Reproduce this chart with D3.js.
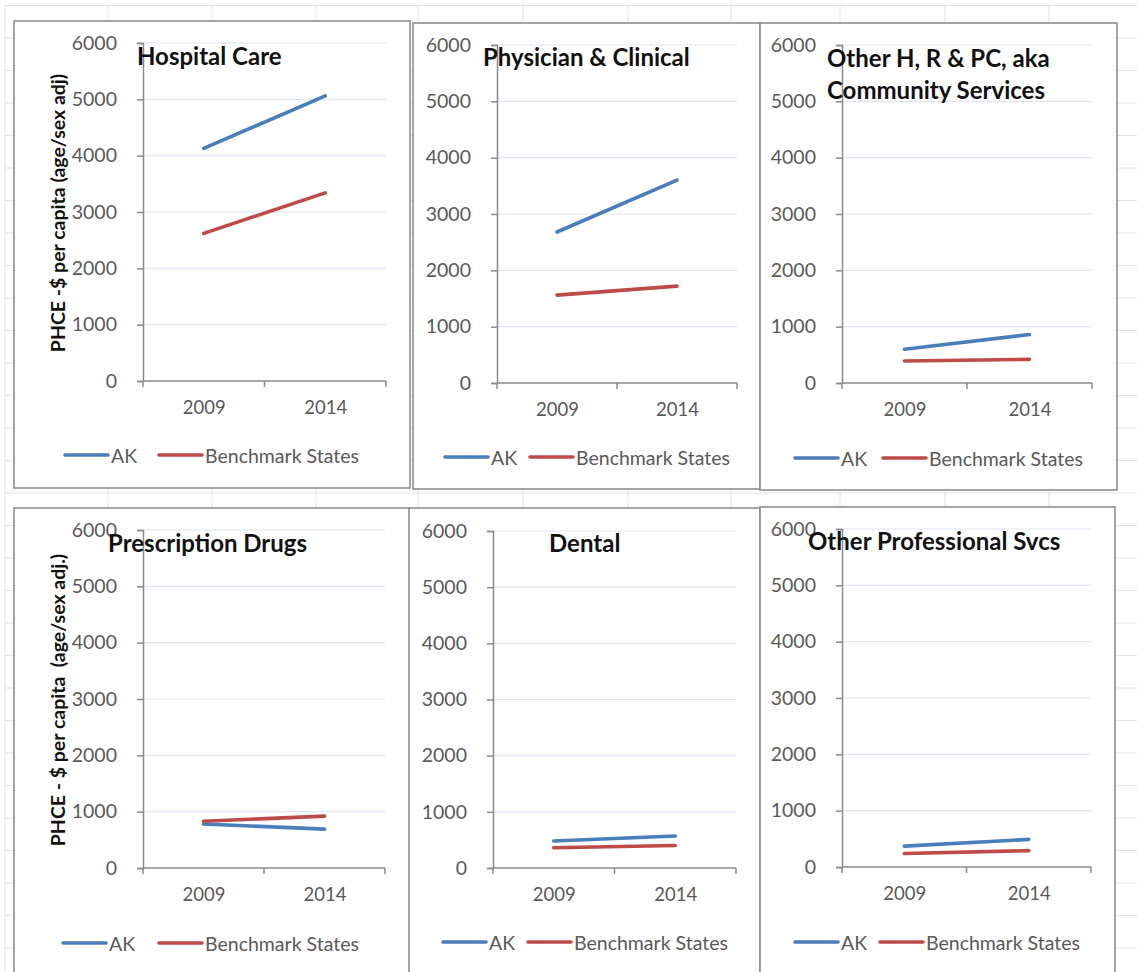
<!DOCTYPE html>
<html>
<head>
<meta charset="utf-8">
<script src="https://cdn.jsdelivr.net/npm/d3@7"></script>
<style>
  html, body { margin: 0; padding: 0; background: #ffffff; }
  svg { display: block; font-family: Lato, "Open Sans", sans-serif; }
  .pre { white-space: pre; }
</style>
</head>
<body>
<svg id="chart" width="1137" height="972"></svg>
<script>
// ---- Data ---------------------------------------------------------------
const years = ["2009", "2014"];
const seriesNames = ["AK", "Benchmark States"];
const panelTitles = [
  ["Hospital Care"],
  ["Physician & Clinical"],
  ["Other H, R & PC, aka", "Community Services"],
  ["Prescription Drugs"],
  ["Dental"],
  ["Other Professional Svcs"]
];
const yAxisTitles = [
  "PHCE -$ per capita (age/sex adj)", null, null,
  "PHCE - $ per capita  (age/sex adj.)", null, null
];
// Per-capita spending, [2009, 2014]
const akValues = [
  [4130, 5060],
  [2680, 3600],
  [600, 860],
  [780, 690],
  [480, 570],
  [370, 490]
];
const benchmarkValues = [
  [2620, 3340],
  [1560, 1720],
  [390, 420],
  [830, 920],
  [360, 400],
  [240, 290]
];
const yTicks = [0, 1000, 2000, 3000, 4000, 5000, 6000];

// ---- Layout -------------------------------------------------------------
const colors = { ak: "#4a7ebb", bench: "#be4b48" };
const panels = [
  { frame: [14, 21, 410, 488],  plot: [143, 386, 43, 381],  titleX: 137, titleY: [55],     yTitle: [57, 213], legend: [65, 159, 455] },
  { frame: [413, 23, 760, 489], plot: [497, 737, 45, 383],  titleX: 483, titleY: [56],     yTitle: null,      legend: [445, 530, 457] },
  { frame: [760, 23, 1117, 490],plot: [842, 1092, 45, 383], titleX: 827, titleY: [57, 89], yTitle: null,      legend: [795, 883, 458] },
  { frame: [14, 508, 410, 990], plot: [143, 385, 530, 868], titleX: 108, titleY: [542],    yTitle: [57, 700], legend: [63, 159, 943] },
  { frame: [409, 508, 760, 990],plot: [493, 736, 531, 868], titleX: 549, titleY: [542],    yTitle: null,      legend: [443, 528, 942] },
  { frame: [760, 507, 1115, 990],plot: [842, 1091, 529, 867],titleX: 808, titleY: [540],   yTitle: null,      legend: [795, 880, 942] }
];

const svg = d3.select("#chart");

// Worksheet cell grid behind the charts
const colLines = [5, 108, 212, 316, 418, 523, 628, 731, 840, 945, 1049];
const rowLines = d3.range(0, 31).map(k => 5.5 + 32.5 * k);
const sheet = svg.append("g").attr("stroke", "#e2e2e2").attr("stroke-width", 1);
sheet.selectAll("line.col").data(colLines).join("line")
  .attr("x1", d => d).attr("x2", d => d).attr("y1", 6).attr("y2", 972);
sheet.selectAll("line.row").data(rowLines).join("line")
  .attr("x1", 5).attr("x2", 1137).attr("y1", d => d).attr("y2", d => d);

panels.forEach((p, i) => {
  const [fx0, fy0, fx1, fy1] = p.frame;
  const [px0, px1, pyTop, pyBottom] = p.plot;
  const g = svg.append("g");

  // chart frame
  g.append("rect")
    .attr("x", fx0).attr("y", fy0)
    .attr("width", fx1 - fx0).attr("height", fy1 - fy0)
    .attr("fill", "#ffffff").attr("stroke", "#8e8e8e").attr("stroke-width", 1.6);

  const y = d3.scaleLinear().domain([0, 6000]).range([pyBottom, pyTop]);
  const xBand = d3.scaleBand().domain(years).range([px0, px1]);
  const x = d3.scalePoint().domain(years).range([px0, px1]).padding(0.5);

  // gridlines
  g.append("g").selectAll("line").data(yTicks.filter(t => t > 0)).join("line")
    .attr("x1", px0).attr("x2", px1)
    .attr("y1", d => y(d)).attr("y2", d => y(d))
    .attr("stroke", "#dde6f1").attr("stroke-width", 1.2);

  // y axis
  const yAxis = g.append("g").attr("transform", `translate(${px0},0)`)
    .call(d3.axisLeft(y).tickValues(yTicks).tickSize(6).tickPadding(20).tickFormat(d3.format("d")));
  yAxis.select(".domain").attr("stroke", "#8a8a8a").attr("stroke-width", 1.5);
  yAxis.selectAll(".tick line").attr("stroke", "#8a8a8a").attr("stroke-width", 1.5);
  yAxis.selectAll(".tick text").attr("fill", "#595959")
    .style("font-size", "19.5px").style("font-family", "Lato, sans-serif");

  // x axis: labels centred on categories, ticks on category boundaries
  const xAxis = g.append("g").attr("transform", `translate(0,${pyBottom})`)
    .call(d3.axisBottom(x).tickSize(0).tickPadding(20));
  xAxis.select(".domain").remove();
  xAxis.selectAll(".tick text").attr("fill", "#595959")
    .style("font-size", "18.5px").style("font-family", "Lato, sans-serif");
  g.append("line")
    .attr("x1", px0).attr("x2", px1).attr("y1", pyBottom).attr("y2", pyBottom)
    .attr("stroke", "#8a8a8a").attr("stroke-width", 1.5);
  const bounds = years.map(d => xBand(d)).concat([px1]);
  g.append("g").selectAll("line").data(bounds).join("line")
    .attr("x1", d => d).attr("x2", d => d)
    .attr("y1", pyBottom).attr("y2", pyBottom + 6)
    .attr("stroke", "#8a8a8a").attr("stroke-width", 1.5);

  // series lines
  const line = d3.line().x((d, j) => x(years[j])).y(d => y(d));
  [[akValues[i], colors.ak], [benchmarkValues[i], colors.bench]].forEach(([vals, c]) => {
    g.append("path").datum(vals)
      .attr("d", line).attr("fill", "none")
      .attr("stroke", c).attr("stroke-width", 3.6).attr("stroke-linecap", "round");
  });

  // chart title
  const title = g.append("text")
    .attr("x", p.titleX).attr("fill", "#111")
    .style("font-weight", "bold").style("font-size", "24px");
  panelTitles[i].forEach((t, k) => {
    title.append("tspan").attr("x", p.titleX).attr("y", p.titleY[k])
      .attr("dominant-baseline", "central").text(t);
  });

  // y axis title
  if (yAxisTitles[i]) {
    g.append("text")
      .attr("class", "pre")
      .attr("transform", `translate(${p.yTitle[0]},${p.yTitle[1]}) rotate(-90)`)
      .attr("text-anchor", "middle").attr("dominant-baseline", "central")
      .attr("fill", "#111").style("font-weight", "bold").style("font-size", "19.5px")
      .text(yAxisTitles[i]);
  }

  // legend
  const [lx0, lx1, ly] = p.legend;
  [[lx0, colors.ak, seriesNames[0]], [lx1, colors.bench, seriesNames[1]]].forEach(([lx, c, name]) => {
    g.append("line")
      .attr("x1", lx).attr("x2", lx + 43).attr("y1", ly).attr("y2", ly)
      .attr("stroke", c).attr("stroke-width", 3.6).attr("stroke-linecap", "round");
    g.append("text")
      .attr("x", lx + 46).attr("y", ly)
      .attr("dominant-baseline", "central")
      .attr("fill", "#595959").style("font-size", "19.5px")
      .text(name);
  });
});
</script>
</body>
</html>
